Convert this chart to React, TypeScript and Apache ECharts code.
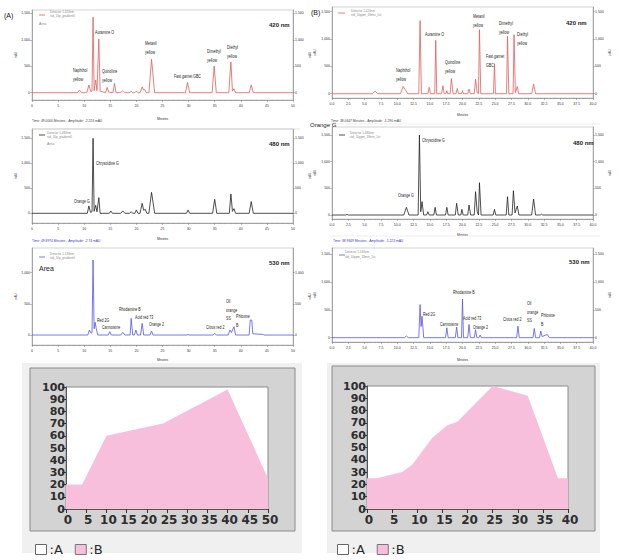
import React, { useEffect, useRef } from "react";
import * as echarts from "echarts";

// ---------- chromatogram traces: [minutes, mAU] ----------
const traceA420: number[][] = [
  [0, 0], [8.7, 0], [9.1, 50], [9.5, 0], [10.5, 0], [10.9, 145], [11.25, 20], [11.5, 30], [11.7, 1425], [11.9, 40],
  [12.2, 240], [12.45, 40], [12.8, 1015], [13.05, 30], [14.1, 0], [14.4, 100], [14.7, 10], [15.5, 0], [15.8, 175], [16.1, 0],
  [17.0, 0], [17.4, 40], [17.8, 0], [18.7, 0], [19, 30], [19.3, 0], [19.7, 0], [20, 30], [20.3, 0], [20.7, 0],
  [21.1, 110], [21.4, 50], [21.6, 60], [21.9, 0], [22.4, 0], [22.9, 630], [23.5, 0], [29.4, 0], [29.8, 195], [30.2, 0],
  [34.5, 0], [34.9, 505], [35.3, 0], [37.7, 0], [38.1, 580], [38.4, 30], [38.7, 75], [39.0, 0], [41.6, 0], [42, 145],
  [42.4, 0], [50, 0],
];
const traceB420: number[][] = [
  [0, 0], [6.2, 0], [6.6, 48], [7.0, 0], [10.5, 0], [10.9, 133], [11.2, 80], [11.6, 0], [13.3, 0], [13.5, 1337],
  [13.7, 0], [14.7, 0], [14.9, 115], [15.1, 0], [15.75, 0], [15.9, 976], [16.05, 0], [16.8, 0], [17.0, 145], [17.2, 0],
  [17.45, 0], [17.6, 55], [17.75, 0], [18.1, 0], [18.3, 277], [18.55, 0], [19.0, 0], [19.2, 96], [19.4, 0], [19.85, 0],
  [20.0, 55], [20.15, 0], [20.8, 0], [21.0, 84], [21.2, 0], [21.8, 0], [22.0, 265], [22.25, 20], [22.45, 0], [22.6, 1169],
  [22.8, 0], [24.75, 0], [24.9, 548], [25.05, 0], [26.75, 0], [26.9, 1048], [27.1, 0], [27.75, 0], [27.9, 1078], [28.1, 20],
  [28.4, 133], [28.6, 0], [30.6, 0], [30.9, 175], [31.2, 0], [40, 0],
];
const traceA480: number[][] = [
  [0, 0], [10.6, 0], [10.9, 147], [11.2, 20], [11.5, 30], [11.7, 1500], [11.9, 40], [12.2, 160], [12.45, 30], [12.8, 313],
  [13.05, 0], [14.8, 0], [15.1, 47], [15.4, 0], [17.0, 0], [17.4, 47], [17.8, 0], [18.7, 0], [19, 33], [19.3, 0],
  [19.7, 0], [20, 67], [20.3, 0], [20.7, 0], [21.1, 200], [21.4, 60], [21.7, 80], [22.0, 0], [22.4, 0], [22.9, 420],
  [23.5, 0], [29.6, 0], [29.9, 67], [30.2, 0], [34.6, 0], [35.0, 280], [35.4, 0], [37.8, 0], [38.1, 387], [38.4, 40],
  [38.7, 93], [39.0, 0], [41.6, 0], [42, 233], [42.4, 0], [50, 0],
];
const traceB480: number[][] = [
  [0, 0], [2.1, 0], [2.3, 10], [2.5, 0], [11.0, 0], [11.4, 144], [11.8, 0], [13.2, 0], [13.4, 1500], [13.6, 60],
  [13.8, 250], [14.05, 0], [14.5, 0], [14.7, 62], [14.9, 0], [15.6, 0], [15.8, 144], [16.0, 0], [17.4, 0], [17.6, 144],
  [17.8, 0], [18.9, 0], [19.1, 219], [19.35, 0], [19.75, 0], [19.9, 106], [20.1, 0], [20.8, 0], [21.0, 187], [21.25, 0],
  [21.8, 0], [22.0, 437], [22.25, 60], [22.45, 0], [22.6, 606], [22.85, 0], [24.7, 0], [24.9, 106], [25.1, 0], [26.7, 0],
  [26.9, 344], [27.1, 0], [27.6, 0], [27.8, 456], [28.05, 40], [28.4, 169], [28.65, 0], [30.6, 0], [30.9, 300], [31.2, 0],
  [31.9, 0], [32.1, 15], [32.3, 0], [40, 0],
];
const traceA530: number[][] = [
  [0, 0], [10.7, 0], [11.0, 80], [11.3, 30], [11.5, 40], [11.7, 1203], [11.9, 100], [12.1, 203], [12.3, 107], [12.6, 0],
  [14.6, 0], [14.9, 53], [15.2, 0], [17.0, 0], [17.4, 43], [17.8, 0], [18.8, 0], [19.0, 267], [19.3, 0], [19.6, 0],
  [19.9, 80], [20.2, 0], [20.8, 0], [21.1, 187], [21.4, 0], [22.6, 0], [22.9, 64], [23.2, 0], [29.7, 0], [29.9, 10],
  [30.1, 0], [34.7, 0], [35.0, 27], [35.3, 0], [37.6, 0], [37.9, 80], [38.2, 40], [38.7, 134], [39.0, 0], [41.6, 0],
  [41.8, 240], [42.1, 240], [42.3, 20], [44.3, 10], [44.4, 0], [50, 0],
];
const traceB530: number[][] = [
  [0, 0], [11.1, 0], [11.4, 30], [11.7, 0], [13.3, 0], [13.5, 593], [13.65, 200], [13.8, 385], [14.05, 0], [17.4, 0],
  [17.6, 178], [17.8, 0], [18.9, 0], [19.1, 190], [19.3, 0], [19.85, 0], [20.0, 694], [20.15, 0], [20.8, 0], [21.0, 237],
  [21.2, 0], [21.8, 0], [22.0, 142], [22.2, 0], [22.5, 0], [22.7, 47], [22.9, 0], [28.3, 0], [28.5, 208], [28.7, 0],
  [30.8, 0], [31.0, 166], [31.2, 0], [31.8, 0], [32.0, 119], [32.2, 20], [33.0, 59], [33.3, 0], [40, 0],
];

// ---------- gradient programs (%B) ----------
const gradTimeA = [0, 4, 10, 24, 40, 50];
const gradBA = [20, 20, 60, 70, 98, 25];
const gradTimeB = [0, 2, 5, 7, 9, 13, 16, 18, 25, 32, 38, 40];
const gradBB = [25, 25, 28, 30, 36, 58, 68, 71, 100, 92, 25, 25];

const yTicks = [0, 500, 1000, 1500];
const yTicksA530 = [0, 500, 1000];
const gradTicksY = [0, 10, 20, 30, 40, 50, 60, 70, 80, 90, 100];

const FONT = "'Liberation Sans Narrow', 'Liberation Sans', Arial, sans-serif";
const BIG = "'DejaVu Sans', Arial, sans-serif";
const RED = "#e35d5d";
const BLACK = "#222";
const BLUE = "#5656ea";
const PINK = "#f8bfdd";

function App() {
  const ref = useRef<HTMLDivElement>(null);
  useEffect(() => {
    const chart = echarts.init(ref.current!, null, { renderer: "svg" });

    const cg: any[] = [
      { left: 32, top: 10, width: 261, height: 90, xmax: 50, xint: 5, ymin: -138, ymax: 1562, ticks: yTicks, b: false, ng: 17, data: traceA420, color: RED },
      { left: 332, top: 7, width: 261, height: 91, xmax: 40, xint: 2.5, ymin: -78, ymax: 1585, ticks: yTicks, b: true, ng: 15, data: traceB420, color: RED },
      { left: 32, top: 129, width: 261, height: 94, xmax: 50, xint: 5, ymin: -194, ymax: 1686, ticks: yTicks, b: false, ng: 14, data: traceA480, color: BLACK },
      { left: 332, top: 127, width: 261, height: 92, xmax: 40, xint: 2.5, ymin: -75, ymax: 1650, ticks: yTicks, b: true, ng: 14, data: traceB480, color: BLACK },
      { left: 32, top: 248, width: 261, height: 97, xmax: 50, xint: 5, ymin: -160, ymax: 1396, ticks: yTicksA530, b: false, ng: 13, data: traceA530, color: BLUE },
      { left: 332, top: 248, width: 261, height: 94, xmax: 40, xint: 2.5, ymin: -77, ymax: 1607, ticks: yTicks, b: true, ng: 16, data: traceB530, color: BLUE },
    ];

    const grid: any[] = [];
    const xAxis: any[] = [];
    const yAxis: any[] = [];
    const series: any[] = [];
    const small = { fontSize: 3.5, color: "#333", fontFamily: FONT };

    cg.forEach((g, i) => {
      grid.push({ left: g.left, top: g.top, width: g.width, height: g.height, show: true, borderColor: "#b5b5b5", borderWidth: 0.6, backgroundColor: "transparent" });
      xAxis.push({
        type: "value", gridIndex: i, min: 0, max: g.xmax, interval: g.xint,
        name: "Minutes", nameLocation: "middle", nameGap: g.ng, nameTextStyle: { ...small, fontSize: 3.2 },
        axisLine: { onZero: false, lineStyle: { color: "#777", width: 0.6 } },
        axisTick: { length: 2, lineStyle: { color: "#777", width: 0.5 } },
        minorTick: { show: true, splitNumber: 5, length: 1.2, lineStyle: { color: "#888", width: 0.4 } },
        axisLabel: { ...small, margin: 4, formatter: (v: number) => (g.b ? v.toFixed(1) : String(v)) },
        splitLine: { show: false },
      });
      const yBase = {
        type: "value", gridIndex: i, min: g.ymin, max: g.ymax,
        name: "mAU", nameLocation: "middle", nameRotate: 90, nameTextStyle: { ...small, fontSize: 2.8 },
        axisLine: { show: true, lineStyle: { color: "#777", width: 0.6 } },
        axisTick: { show: true, length: 1.8, customValues: g.ticks, lineStyle: { color: "#777", width: 0.5 } },
        axisLabel: { ...small, margin: 2, customValues: g.ticks },
        splitLine: { show: false },
      };
      yAxis.push({ ...yBase, position: "left", nameGap: g.b ? 16 : 14 });
      yAxis.push({ ...yBase, position: "right", nameGap: 12 });
      series.push({
        type: "line", xAxisIndex: i, yAxisIndex: 2 * i, data: g.data, symbol: "none", showSymbol: false,
        lineStyle: { color: g.color, width: 0.8 }, silent: true, z: 3,
      });
    });

    const gg = [
      { left: 66, top: 387, width: 202, height: 122, xmax: 50, t: gradTimeA, v: gradBA },
      { left: 367, top: 386, width: 201, height: 123, xmax: 40, t: gradTimeB, v: gradBB },
    ];
    const bigLbl = { fontSize: 11, fontWeight: "bold", color: "#2e2e2e", fontFamily: BIG };
    gg.forEach((g, k) => {
      const gi = 6 + k;
      grid.push({ left: g.left, top: g.top, width: g.width, height: g.height, show: true, backgroundColor: "#fff", borderColor: "#8a8a8a", borderWidth: 1 });
      xAxis.push({
        type: "value", gridIndex: gi, min: 0, max: g.xmax, interval: 5,
        axisLine: { onZero: false, lineStyle: { color: "#555", width: 1 } },
        axisTick: { length: 4, lineStyle: { color: "#333" } },
        axisLabel: { ...bigLbl, fontSize: 12, margin: 5, padding: [0, 0, 0, 4], showMinLabel: true, showMaxLabel: true },
        splitLine: { show: false },
      });
      yAxis.push({
        type: "value", gridIndex: gi, min: 0, max: 100, interval: 10,
        axisLine: { show: true, lineStyle: { color: "#555", width: 1 } },
        axisTick: { show: true, length: 4, lineStyle: { color: "#333" } },
        axisLabel: { ...bigLbl, margin: 1, lineHeight: 11, customValues: gradTicksY, showMinLabel: true, showMaxLabel: true },
        splitLine: { show: false },
      });
      series.push({
        name: "A", type: "line", xAxisIndex: gi, yAxisIndex: 12 + k, data: [], symbol: "none",
        itemStyle: { color: "#fff", borderColor: "#555" }, lineStyle: { width: 0 },
      });
      series.push({
        name: "B", type: "line", xAxisIndex: gi, yAxisIndex: 12 + k, data: g.t.map((t, j) => [t, g.v[j]]), symbol: "none",
        itemStyle: { color: PINK }, lineStyle: { width: 0, color: PINK }, areaStyle: { color: PINK, opacity: 1 }, silent: true,
      });
    });

    const legendData = [
      { name: "A", itemStyle: { color: "#fff", borderColor: "#666", borderWidth: 1 } },
      { name: "B", itemStyle: { color: PINK, borderColor: "#777", borderWidth: 1 } },
    ];
    const legendBase = {
      top: 538, data: legendData, icon: "rect", itemWidth: 11, itemHeight: 10, itemGap: 12, selectedMode: false,
      formatter: ":{name}", textStyle: { fontSize: 13, color: "#2a2a2a", fontFamily: BIG, padding: [0, 0, 0, -2] },
    };

    const T = (x: number, y: number, text: string, size = 5, extra: any = {}, sx = 1) => ({
      type: "text", x, y, scaleX: sx, silent: true, z: 10,
      style: { text, fontSize: size, fontFamily: FONT, fill: "#222", verticalAlign: "middle", align: "left", lineHeight: size * 1.7, ...extra },
    });
    const P = (x: number, y: number, text: string) => T(x, y, text, 5, {}, 0.72);
    const L = (x1: number, y1: number, x2: number, y2: number, stroke: string, lineWidth = 1) => ({
      type: "line", silent: true, z: 10, shape: { x1, y1, x2, y2 }, style: { stroke, lineWidth },
    });
    const R = (x: number, y: number, w: number, h: number, fill: string, stroke?: string) => ({
      type: "rect", silent: true, z: -5, shape: { x, y, width: w, height: h },
      style: { fill, stroke: stroke || null, lineWidth: stroke ? 1 : 0 },
    });
    const gray = { fill: "#8a8a8a" };
    const elements: any[] = [
      R(22, 363, 280, 190, "#f0f0f0"),
      R(30, 368, 265, 163, "#d3d3d3", "#8a8a8a"),
      R(327, 363, 273, 190, "#f0f0f0"),
      R(332, 366, 263, 165, "#d3d3d3", "#8a8a8a"),
      L(32, 129, 300, 129, "#d0d0d0", 0.6),
      L(330, 124, 600, 124, "#e2e2e2", 0.6),
      L(330, 236, 600, 236, "#e2e2e2", 0.6),

      // ---- A 420 ----
      T(4, 15, "(A)", 7, { fill: "#111" }),
      L(39, 15, 45, 15, RED, 0.8),
      T(50, 12, "Detector 1-420nm", 3, gray),
      T(50, 16, "std_10p_gradient0", 3, gray),
      T(39, 24, "Area", 3.5, gray),
      P(73, 75, "Naphthol\nyellow"),
      P(95, 32, "Auramine O"),
      P(102, 76, "Quinoline\nyellow"),
      P(145, 48, "Metanil\nyellow"),
      P(174, 76, "Fast garnet GBC"),
      P(207, 56, "Dimethyl\nyellow"),
      P(227, 52, "Diethyl\nyellow"),
      T(269, 25, "420 nm", 6, { fontWeight: "bold" }),
      T(32, 121, "Time: 49.0000 Minutes - Amplitude: -2.224 mAU", 3.3, { fill: "#444" }),

      // ---- B 420 ----
      T(311, 12, "(B)", 7, { fill: "#111" }),
      L(338, 13, 345, 13, RED, 0.8),
      T(351, 11, "Detector 1-420nm", 3, gray),
      T(351, 15, "std_10ppm_18min_1st", 3, gray),
      P(396, 75, "Naphthol\nyellow"),
      P(425, 34, "Auramine O"),
      P(445, 67, "Quinoline\nyellow"),
      P(473, 21, "Metanil\nyellow"),
      P(486, 61, "Fast garnet\nGBC"),
      P(499, 28, "Dimethyl\nyellow"),
      P(517, 39, "Diethyl\nyellow"),
      T(566, 23, "420 nm", 6, { fontWeight: "bold" }),
      T(331, 121, "Time: 38.0647 Minutes - Amplitude: -1.290 mAU", 3.3, { fill: "#444" }),

      // ---- A 480 ----
      L(39, 135, 45, 135, BLACK, 0.8),
      T(47, 133, "Detector 1-480nm", 3, gray),
      T(47, 137, "std_10p_gradient0", 3, gray),
      T(47, 144, "Area", 3.5, gray),
      P(74, 201, "Orange G"),
      P(96, 163, "Chrysoidine G"),
      T(269, 144, "480 nm", 6, { fontWeight: "bold" }),
      T(32, 241, "Time: 49.8974 Minutes - Amplitude: -2.74 mAU", 3.3, { fill: "#3a3ad0" }),

      // ---- B 480 ----
      T(310, 125, "Orange G", 6),
      L(339, 135, 345, 135, BLACK, 0.8),
      T(350, 133, "Detector 1-480nm", 3, gray),
      T(350, 137, "std_10ppm_18min_1st", 3, gray),
      P(398, 195, "Orange G"),
      P(422, 140, "Chrysoidine G"),
      T(573, 143, "480 nm", 6, { fontWeight: "bold" }),
      T(333, 241, "Time: 38.9669 Minutes - Amplitude: -1.223 mAU", 3.3, { fill: "#3a3ad0" }),

      // ---- A 530 ----
      L(39, 257, 45, 257, BLUE, 0.8),
      T(50, 254, "Detector 1-530nm", 3, gray),
      T(50, 258, "std_10p_gradient0", 3, gray),
      T(39, 268, "Area", 7),
      P(97, 320, "Red 2G"),
      P(102, 327, "Carmoisine"),
      P(119, 309, "Rhodamine B"),
      P(135, 317, "Acid red 73"),
      P(149, 324, "Orange 2"),
      P(206, 327, "Citrus red 2"),
      P(226, 310, "Oil\norange\nSS"),
      P(236, 321, "Phloxine\nB"),
      T(269, 263, "530 nm", 6, { fontWeight: "bold" }),

      // ---- B 530 ----
      L(339, 255, 345, 255, BLUE, 0.8),
      T(345, 252, "Detector 1-530nm", 3, gray),
      T(345, 257, "std_10ppm_18min_1st", 3, gray),
      P(423, 314, "Red 2G"),
      P(440, 324, "Carmoisine"),
      P(453, 292, "Rhodamine B"),
      P(463, 318, "Acid red 73"),
      P(473, 327, "Orange 2"),
      P(503, 319, "Citrus red 2"),
      P(527, 312, "Oil\norange\nSS"),
      P(541, 320, "Phloxine\nB"),
      T(569, 262, "530 nm", 6, { fontWeight: "bold" }),
    ];

    chart.setOption({
      animation: false,
      backgroundColor: "#fff",
      grid, xAxis, yAxis, series,
      legend: [
        { ...legendBase, left: 30 },
        { ...legendBase, left: 332 },
      ],
      graphic: { elements },
    });
    return () => chart.dispose();
  }, []);
  return <div ref={ref} style={{ position: "absolute", left: 0, top: 0, width: 619, height: 560 }} />;
}

export default App;
